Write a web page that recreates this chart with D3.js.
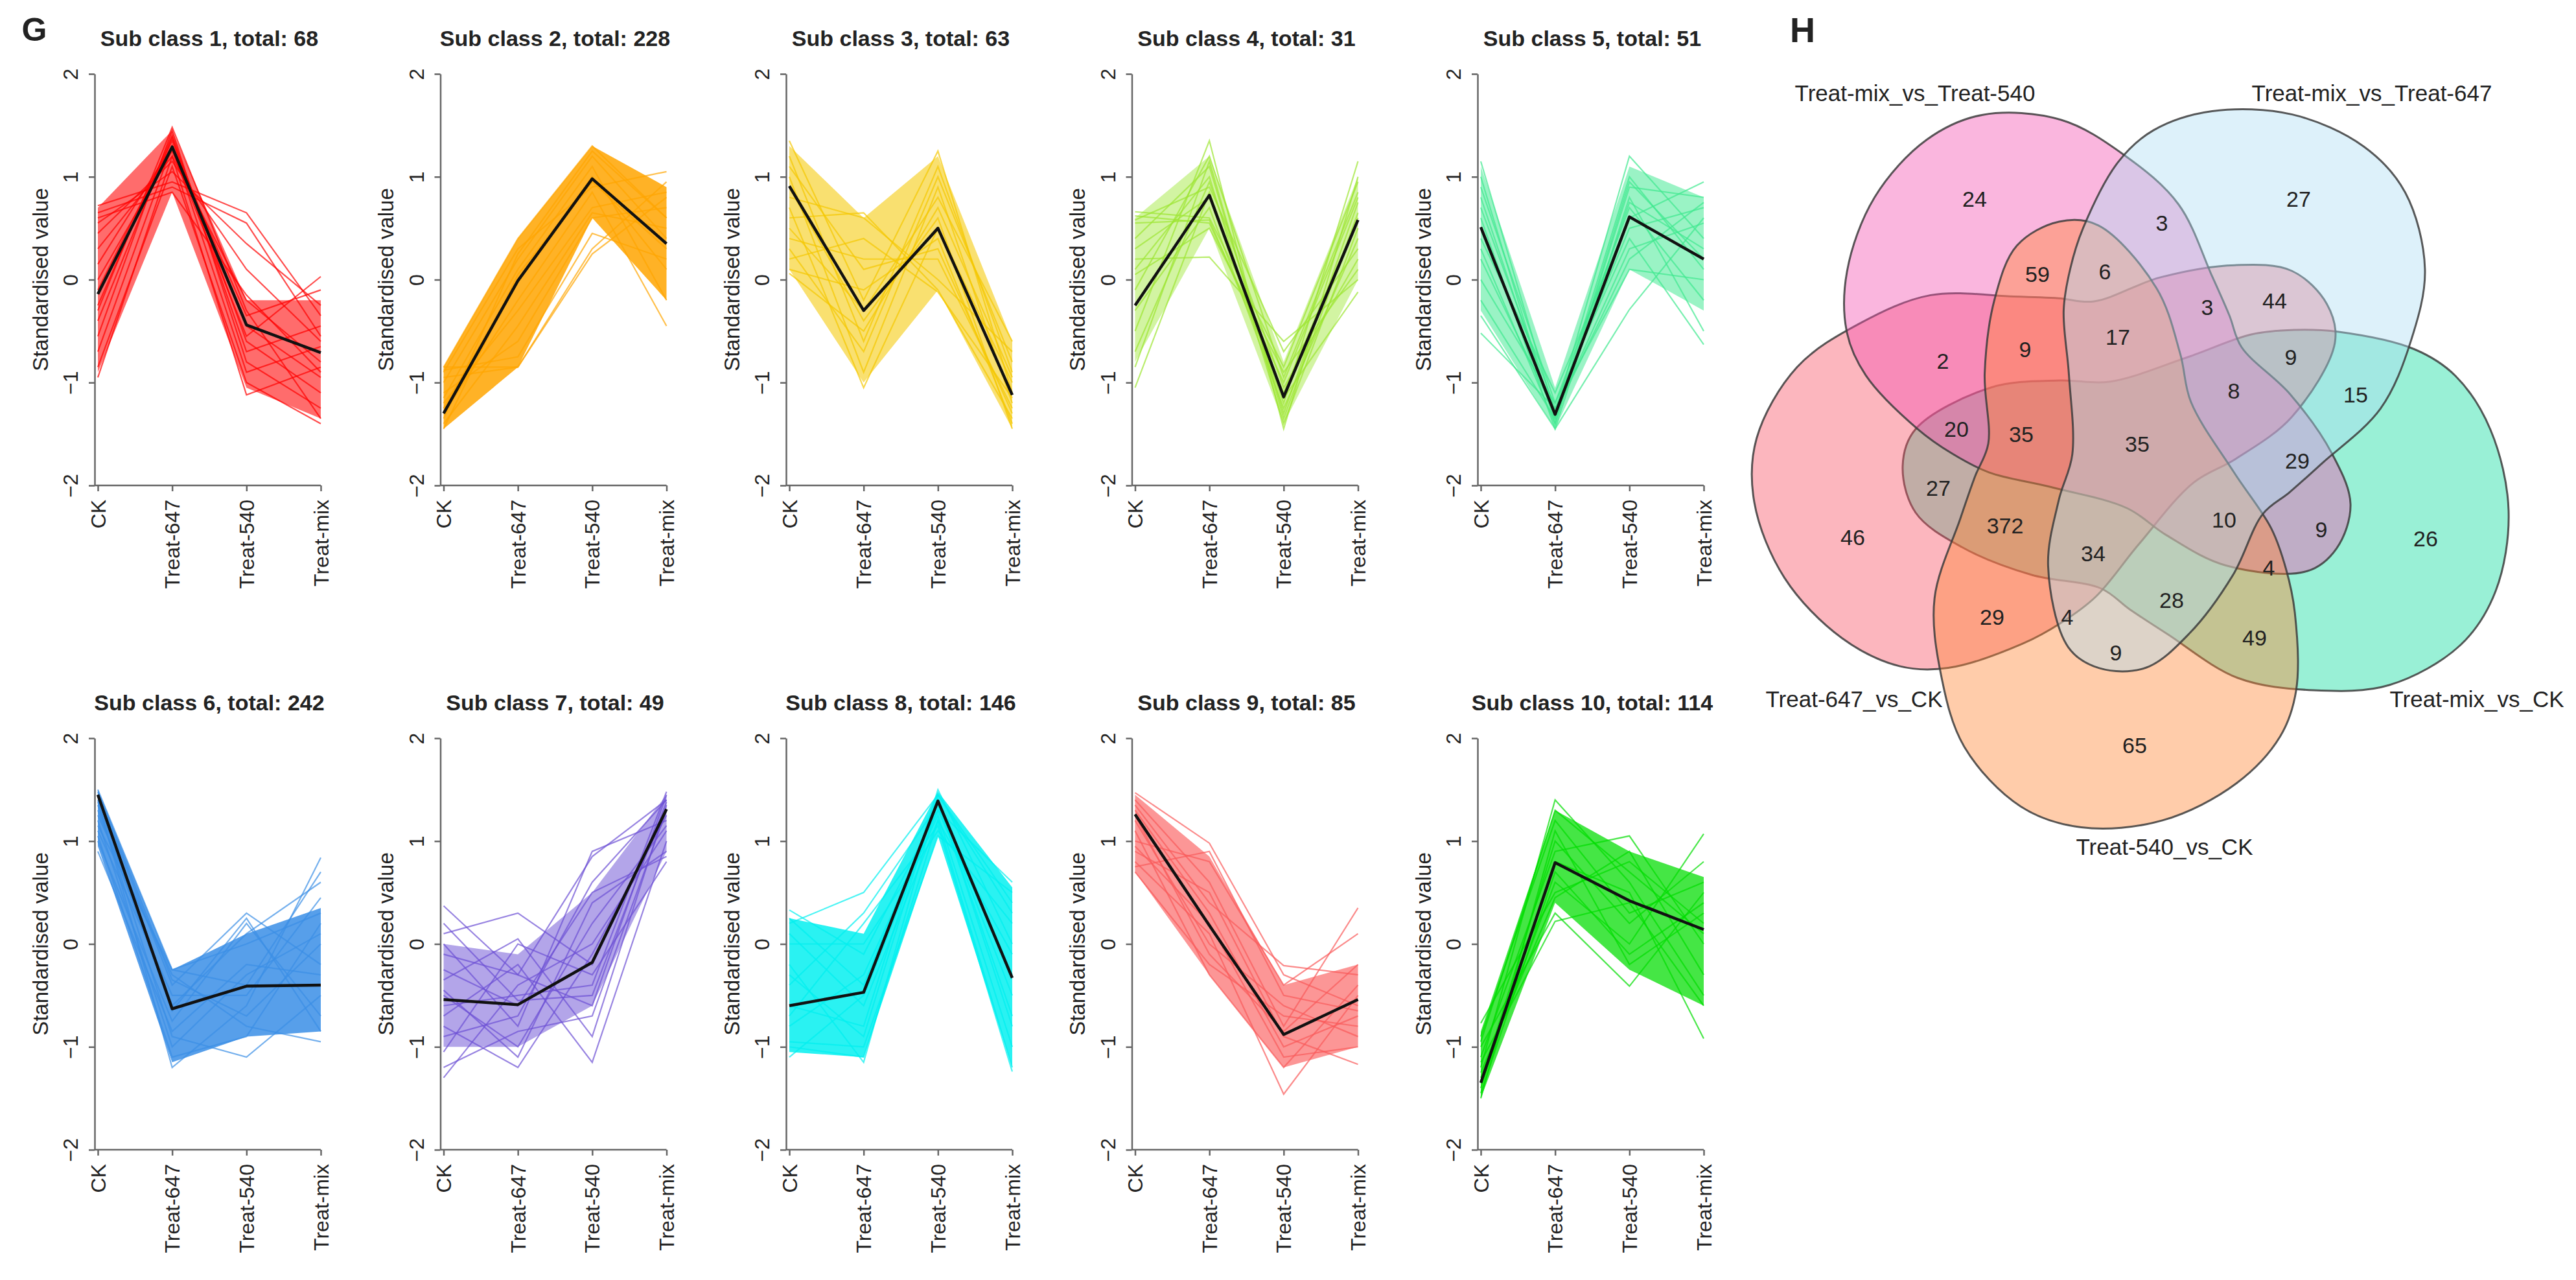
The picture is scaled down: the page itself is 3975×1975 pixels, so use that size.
<!DOCTYPE html>
<html>
<head>
<meta charset="utf-8">
<script src="https://cdn.jsdelivr.net/npm/d3@7"></script>
<style>
  body { margin: 0; background: #fff; }
  svg { display: block; }
  text { font-family: "Liberation Sans", Arial, sans-serif; fill: #222; }
</style>
</head>
<body>
<div class="chart"></div>
<script>
// ---- panel G data ----
const categories = ["CK", "Treat-647", "Treat-540", "Treat-mix"];
const yTicks = [-2, -1, 0, 1, 2];
const classTotals = [68, 228, 63, 31, 51, 242, 49, 146, 85, 114];
const classColors = ["#ff0000", "#ffa500", "#f5c800", "#9de632", "#3ee88f",
                     "#3a8ee6", "#6c50d4", "#00f0f0", "#fa5a5a", "#00dd00"];

// black centre line of each sub class
const classMeans = [
  [-0.14, 1.29, -0.44, -0.71],
  [-1.30, -0.01, 0.98, 0.35],
  [0.91, -0.30, 0.50, -1.12],
  [-0.25, 0.82, -1.14, 0.58],
  [0.51, -1.31, 0.61, 0.20],
  [1.45, -0.63, -0.41, -0.40],
  [-0.54, -0.59, -0.18, 1.31],
  [-0.60, -0.47, 1.39, -0.33],
  [1.26, 0.18, -0.88, -0.54],
  [-1.35, 0.79, 0.42, 0.14]
];

// dense core of the bundle (low / high at each treatment)
const classLow = [
  [-0.90, 0.85, -1.05, -1.35],
  [-1.45, -0.85, 0.60, -0.20],
  [0.10, -1.00, -0.10, -1.45],
  [-0.80, 0.50, -1.40, 0.00],
  [-0.30, -1.45, 0.10, -0.30],
  [0.95, -1.15, -0.90, -0.85],
  [-1.00, -1.00, -0.60, 0.90],
  [-1.05, -1.10, 1.05, -1.20],
  [0.70, -0.30, -1.20, -1.00],
  [-1.50, 0.40, -0.25, -0.60]
];
const classHigh = [
  [0.70, 1.45, -0.20, -0.20],
  [-0.85, 0.40, 1.30, 0.90],
  [1.30, 0.60, 1.20, -0.60],
  [0.60, 1.20, -0.80, 1.00],
  [1.10, -1.05, 1.10, 0.80],
  [1.50, -0.25, 0.10, 0.35],
  [0.00, -0.10, 0.50, 1.45],
  [0.25, 0.10, 1.48, 0.55],
  [1.45, 0.85, -0.40, -0.20],
  [-0.85, 1.30, 0.90, 0.65]
];

// single gene profiles
const class1Lines = [
  [0.72, 0.95, 0.65, -0.35], [0.65, 0.90, 0.55, -0.55], [0.55, 1.05, 0.35, -0.25],
  [0.45, 1.15, 0.10, -0.60], [0.30, 1.20, -0.20, -0.80], [0.15, 1.30, -0.35, -0.10],
  [0.00, 1.25, -0.55, 0.03], [-0.10, 1.35, -0.45, -0.95], [-0.25, 1.40, -0.60, -1.10],
  [-0.40, 1.38, -0.70, -0.45], [-0.55, 1.45, -0.80, -1.25], [-0.70, 1.30, -0.90, -0.65],
  [-0.85, 1.10, -1.00, -1.40], [-0.95, 1.20, -1.12, -0.85], [0.60, 0.85, -0.15, -0.90],
  [-0.30, 1.48, -0.30, -1.35]
];
const class2Lines = [
  [-0.85, 0.40, 1.30, 0.60], [-0.85, -0.85, 0.25, 0.80], [-0.90, 0.30, 0.90, 1.05],
  [-0.95, -0.85, 0.30, 0.95], [-1.00, 0.20, 1.20, 0.40], [-1.10, -0.60, 0.60, 0.70],
  [-1.15, 0.10, 1.10, -0.20], [-1.20, -0.30, 0.70, 0.85], [-1.25, 0.00, 1.00, 0.10],
  [-1.30, -0.20, 0.85, -0.45], [-1.35, 0.25, 1.25, 0.60], [-1.40, -0.45, 0.65, 0.50],
  [-1.45, 0.05, 0.95, 0.30], [-0.88, -0.75, 0.45, 0.20]
];
const class3Lines = [
  [1.35, -0.20, 1.25, -1.10], [1.20, -0.60, 1.10, -0.90], [1.10, 0.10, 0.30, -1.30],
  [1.00, -0.90, 0.90, -1.20], [0.90, -0.40, 0.60, -1.45], [0.80, 0.60, 0.00, -0.70],
  [0.70, -1.05, 0.50, -1.00], [0.60, 0.65, -0.10, -1.35], [0.50, -0.30, 0.80, -0.60],
  [0.40, 0.20, 0.20, -1.25], [0.30, -0.70, 1.00, -0.80], [0.20, 0.40, -0.12, -1.15],
  [0.10, -0.10, 0.40, -1.40], [0.06, -0.50, 0.70, -0.95]
];
const class4Lines = [
  [0.66, 0.60, -0.85, 0.95], [0.62, 0.55, -1.00, 0.80], [0.58, 0.90, -0.70, 0.30],
  [0.55, 0.58, -1.10, 0.60], [0.40, 1.10, -1.30, 0.75], [0.30, 0.80, -1.20, 1.15],
  [0.20, 0.22, -0.60, 0.00], [0.10, 1.00, -1.40, 0.50], [-0.10, 1.20, -0.95, 0.85],
  [-0.30, 0.70, -1.25, 0.40], [-0.50, 1.35, -1.45, 1.00], [-0.70, 0.95, -1.05, 0.20],
  [-0.85, 1.15, -1.35, 0.65], [-1.05, 0.85, -1.15, -0.12], [0.05, 0.50, -0.90, 0.10]
];
const class5Lines = [
  [1.15, -1.30, 1.20, 0.40], [1.00, -1.40, 0.90, 0.80], [0.90, -1.20, 0.70, -0.20],
  [0.80, -1.35, 1.00, 0.10], [0.70, -1.25, 0.50, 0.70], [0.60, -1.45, 0.80, -0.50],
  [0.50, -1.30, 0.30, 0.55], [0.40, -1.10, 0.60, 0.95], [0.30, -1.40, 0.95, 0.20],
  [0.20, -1.30, 0.20, 0.75], [0.00, -1.20, 0.40, -0.63], [-0.20, -1.35, 0.75, 0.30],
  [-0.35, -1.45, -0.29, 0.60], [-0.52, -1.25, 0.10, 0.00]
];
const class6Lines = [
  [1.50, -0.25, 0.00, 0.30], [1.45, -0.40, 0.30, -0.20], [1.40, -1.20, -0.60, 0.84],
  [1.35, -0.90, -1.10, -0.50], [1.30, -0.60, 0.10, 0.60], [1.25, -0.30, -0.80, -0.95],
  [1.20, -1.00, -0.30, 0.10], [1.10, -0.50, -0.50, 0.45], [1.00, -0.75, 0.20, -0.70],
  [0.90, -0.85, -0.20, -0.30], [1.48, -0.35, -0.70, 0.00], [1.05, -1.10, -0.90, 0.20],
  [1.38, -0.65, 0.25, -0.85], [1.15, -0.25, -0.40, 0.70]
];
const class7Lines = [
  [0.37, -0.30, 0.85, 1.40], [0.10, 0.30, -0.20, 1.30], [0.00, -0.80, 0.90, 1.20],
  [-0.10, -0.30, -0.60, 1.45], [-0.25, -0.60, 0.50, 0.85], [-0.35, 0.05, -0.90, 1.35],
  [-0.50, -1.00, 0.20, 1.15], [-0.60, -0.50, -0.40, 1.48], [-0.70, -0.20, -1.15, 1.00],
  [-0.80, -1.20, -0.10, 1.25], [-0.90, -0.70, 0.60, 1.40], [-1.05, 0.00, -0.30, 0.80],
  [-1.20, -0.85, -0.70, 1.30], [-1.30, -0.40, 0.00, 1.10], [-0.45, -1.10, 0.40, 0.90],
  [0.20, -0.55, -0.50, 1.38]
];
const class8Lines = [
  [0.33, -0.10, 1.30, 0.60], [0.20, 0.50, 1.45, 0.40], [0.10, -0.60, 1.20, -1.20],
  [0.00, 0.00, 1.10, 0.20], [-0.20, -1.15, 1.40, -0.80], [-0.40, 0.30, 1.35, -0.50],
  [-0.60, -0.80, 1.50, 0.00], [-0.80, -0.30, 1.25, -1.00], [-0.95, -1.00, 1.05, 0.50],
  [-1.10, -0.50, 1.30, -0.30], [-0.70, 0.20, 1.15, -1.24], [-0.30, -0.90, 1.45, 0.30],
  [0.25, -0.40, 1.38, -0.70], [-1.00, -1.10, 1.20, -0.10]
];
const class9Lines = [
  [1.47, 0.98, -0.30, -0.60], [1.40, 0.60, -0.80, 0.35], [1.30, 0.30, -1.00, -0.70],
  [1.20, 0.00, -0.60, -0.90], [1.10, -0.30, -1.20, -0.40], [1.00, 0.80, -0.40, 0.10],
  [0.90, 0.50, -0.90, -1.17], [0.80, 0.10, -1.46, -0.50], [0.70, -0.20, -0.70, -0.80],
  [1.35, 0.40, -0.21, -0.30], [0.95, 0.20, -1.10, -1.00], [1.25, -0.10, -0.85, -0.20],
  [0.75, 0.90, -0.50, -0.65]
];
const class10Lines = [
  [-0.77, 0.50, 0.80, 0.20], [-0.90, 1.20, 0.30, 0.60], [-1.00, 0.30, -0.41, 0.50],
  [-1.10, 0.90, 1.05, 0.00], [-1.20, 1.40, 0.60, -0.50], [-1.30, 0.60, 0.00, 1.07],
  [-1.40, 0.80, 0.50, -0.92], [-1.50, 1.10, -0.20, 0.30], [-1.25, 0.45, 0.90, -0.30],
  [-1.35, 1.00, 0.20, 0.80], [-1.45, 0.70, -0.10, 0.40], [-1.15, 0.22, 0.40, -0.60],
  [-0.95, 1.30, 0.70, 0.10]
];
const classLines = [class1Lines, class2Lines, class3Lines, class4Lines, class5Lines,
                    class6Lines, class7Lines, class8Lines, class9Lines, class10Lines];

// ---- panel H data ----
const vennSets = ["Treat-mix_vs_CK", "Treat-540_vs_CK", "Treat-647_vs_CK",
                  "Treat-mix_vs_Treat-540", "Treat-mix_vs_Treat-647"];
const vennColors = ["#0cdb9d", "#ff8635", "#f85164", "#f351b0", "#aedef3"];
const vennDrawOrder = [0, 2, 3, 1, 4];
const regionCounts = [24, 27, 3, 59, 6, 3, 44, 17, 9, 2, 9, 8, 15, 20, 35, 35,
                      29, 27, 372, 10, 9, 46, 26, 34, 4, 28, 29, 4, 49, 9, 65];

// ---- layout ----
const W = 3975, H = 1975;
const colStep = 533.5, rowStep = 1025;
const plotW = 344;

// outline of one set shape (head to the right), px from the diagram centre
const shapeOutline = [
  [-362, 34], [-342, -23], [-226, -87], [-119, -98], [-43, -96], [78, -134],
  [176, -169], [242, -176], [311, -173], [428, -146], [491, -105], [545, -22],
  [573, 103], [553, 227], [499, 310], [389, 372], [272, 380], [155, 361],
  [46, 293], [-12, 255], [-56, 223], [-163, 202], [-271, 159], [-342, 106]
];
const shapeTurn = [0, 76, 149, 213, 285];
const shapeScale = [1, 1, 1, 0.955, 0.965];
const regionPos = [
  [-251, -378], [249, -378], [38, -341], [-154, -262], [-50, -266], [108, -211],
  [212, -221], [-30, -165], [-173, -146], [-300, -128], [237, -134], [149, -82],
  [337, -76], [-279, -23], [-179, -15], [0, 0], [247, 26], [-307, 68],
  [-204, 126], [134, 117], [284, 132], [-439, 144], [445, 146], [-68, 169],
  [203, 191], [53, 241], [-224, 267], [-108, 267], [181, 299], [-33, 322],
  [-4, 465]
];
const setLabelPos = [[524, 393], [42, 621], [-437, 393], [-343, -542], [362, -542]];

const svg = d3.select(".chart").append("svg")
  .attr("width", W).attr("height", H);
svg.append("rect").attr("width", W).attr("height", H).attr("fill", "#fff");

const line = d3.line();
const area = d3.area();

classTotals.forEach((total, k) => {
  const col = k % 5, row = Math.floor(k / 5);
  const axisX = 146 + col * colStep;
  const x0 = axisX + 5;
  const top = 114 + row * rowStep, bottom = 749 + row * rowStep;

  const x = d3.scalePoint().domain(categories).range([x0, x0 + plotW]);
  const y = d3.scaleLinear().domain([-2, 2]).range([bottom, top]);
  const g = svg.append("g");
  const color = classColors[k];

  line.x((d, i) => x(categories[i])).y(d => y(d));
  area.x((d, i) => x(categories[i])).y0(d => y(d[0])).y1(d => y(d[1]));

  g.append("path")
    .datum(classLow[k].map((v, i) => [v, classHigh[k][i]]))
    .attr("d", area)
    .attr("fill", color)
    .attr("fill-opacity", 0.35 + 0.5 * Math.min(1, total / 150));

  g.selectAll(".gene")
    .data(classLines[k])
    .join("path")
    .attr("class", "gene")
    .attr("d", line)
    .attr("fill", "none")
    .attr("stroke", color)
    .attr("stroke-opacity", 0.7)
    .attr("stroke-width", 2.2);

  g.append("path")
    .datum(classMeans[k])
    .attr("d", line)
    .attr("fill", "none")
    .attr("stroke", "#111")
    .attr("stroke-width", 4.5)
    .attr("stroke-linejoin", "round");

  // y axis, R style with rotated labels
  const ya = g.append("g")
    .attr("transform", `translate(${axisX},0)`)
    .call(d3.axisLeft(y).tickValues(yTicks).tickFormat(d3.format("d"))
      .tickSize(9).tickSizeOuter(0));
  ya.selectAll("text")
    .attr("x", null).attr("dy", null)
    .attr("transform", "translate(-37,0) rotate(-90)")
    .attr("text-anchor", "middle")
    .attr("dominant-baseline", "central")
    .style("font-size", "32px");

  const xa = g.append("g")
    .attr("transform", `translate(0,${bottom})`)
    .call(d3.axisBottom(x).tickSize(9).tickSizeOuter(0));
  xa.select(".domain").attr("d", `M${axisX},0H${x0 + plotW}`);
  xa.selectAll("text")
    .attr("y", null).attr("dy", null)
    .attr("transform", "translate(0,22) rotate(-90)")
    .attr("text-anchor", "end")
    .attr("dominant-baseline", "central")
    .style("font-size", "32px");

  g.selectAll(".domain, .tick line")
    .attr("stroke", "#666").attr("stroke-width", 2.5);
  g.selectAll(".tick text").attr("fill", "#222");

  g.append("text")
    .attr("transform", `translate(${axisX - 84},${(top + bottom) / 2}) rotate(-90)`)
    .attr("text-anchor", "middle")
    .attr("dominant-baseline", "central")
    .style("font-size", "33px")
    .text("Standardised value");

  g.append("text")
    .attr("x", x0 + plotW / 2).attr("y", top - 43)
    .attr("text-anchor", "middle")
    .style("font-size", "34px").style("font-weight", "bold")
    .text(`Sub class ${k + 1}, total: ${total}`);
});

svg.append("text").attr("x", 53).attr("y", 63)
  .attr("text-anchor", "middle")
  .style("font-size", "50px").style("font-weight", "bold")
  .text("G");

// ---- Venn ----
const cx = 3298, cy = 685;
const xV = d3.scaleLinear().domain([-600, 600]).range([cx - 600, cx + 600]);
const yV = d3.scaleLinear().domain([-600, 600]).range([cy - 600, cy + 600]);
const shapeLine = d3.line().curve(d3.curveCatmullRomClosed.alpha(0.5));

function turned(pt, deg, s) {
  const a = deg * Math.PI / 180;
  return [s * (pt[0] * Math.cos(a) - pt[1] * Math.sin(a)),
          s * (pt[0] * Math.sin(a) + pt[1] * Math.cos(a))];
}

const venn = svg.append("g");
venn.selectAll(".set")
  .data(vennDrawOrder)
  .join("path")
  .attr("class", "set")
  .attr("d", i => shapeLine(shapeOutline.map(p => {
    const q = turned(p, shapeTurn[i], shapeScale[i]);
    return [xV(q[0]), yV(q[1])];
  })))
  .attr("fill", i => vennColors[i])
  .attr("fill-opacity", 0.42)
  .attr("stroke", "#3c3c3c")
  .attr("stroke-opacity", 0.85)
  .attr("stroke-width", 3);

venn.selectAll(".count")
  .data(regionCounts)
  .join("text")
  .attr("class", "count")
  .attr("x", (d, i) => xV(regionPos[i][0]))
  .attr("y", (d, i) => yV(regionPos[i][1]))
  .attr("text-anchor", "middle")
  .attr("dominant-baseline", "central")
  .style("font-size", "34px")
  .text(d => d);

venn.selectAll(".setname")
  .data(vennSets)
  .join("text")
  .attr("class", "setname")
  .attr("x", (d, i) => xV(setLabelPos[i][0]))
  .attr("y", (d, i) => yV(setLabelPos[i][1]))
  .attr("text-anchor", "middle")
  .attr("dominant-baseline", "central")
  .style("font-size", "35px")
  .text(d => d);

svg.append("text").attr("x", 2762).attr("y", 65)
  .style("font-size", "54px").style("font-weight", "bold")
  .text("H");
</script>
</body>
</html>
